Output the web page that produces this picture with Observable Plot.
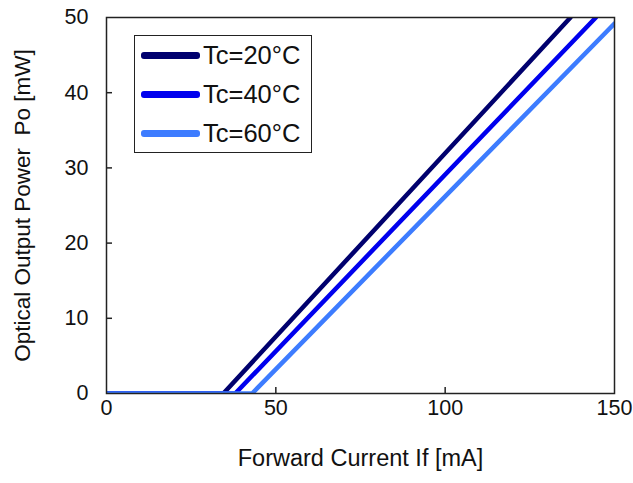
<!DOCTYPE html>
<html><head><meta charset="utf-8">
<script src="https://cdn.jsdelivr.net/npm/d3@7"></script>
<script src="https://cdn.jsdelivr.net/npm/@observablehq/plot@0.6"></script>
<style>
body{margin:0;background:#fff;}
#wrap{position:relative;width:633px;height:483px;font-family:"Liberation Sans",Arial,sans-serif;}
#legend{position:absolute;left:134px;top:35px;width:178px;height:118px;border:1.5px solid #222;box-sizing:border-box;background:#fff;}
.item{position:absolute;left:0;height:30px;width:176px;}
.sw{position:absolute;left:6px;top:12px;width:59px;height:7px;border-radius:3px;}
.lab{position:absolute;left:68px;top:0;font-size:25.5px;line-height:30px;color:#111;}
</style></head>
<body><div id="wrap"></div>
<script>
const seriesNames = ["Tc=20°C", "Tc=40°C", "Tc=60°C"];
const seriesColors = ["#00006e", "#0000ee", "#3d7cff"];
const current20 = [0, 34.5, 137];
const power20   = [0, 0, 50];
const current40 = [0, 38, 144.5];
const power40   = [0, 0, 50];
const current60 = [0, 43, 150];
const power60   = [0, 0, 49.2];
const xTicks = [0, 50, 100, 150];
const yTicks = [0, 10, 20, 30, 40, 50];
const xLabel = "Forward Current If [mA]";
const yLabel = "Optical Output Power  Po [mW]";

const seriesData = [[current20, power20], [current40, power40], [current60, power60]];
const rows = [];
seriesData.forEach(([cx, py], i) => cx.forEach((c, j) => rows.push({series: seriesNames[i], current: c, power: py[j]})));

const chart = Plot.plot({
  width: 633, height: 483,
  marginLeft: 106, marginRight: 19, marginTop: 17, marginBottom: 90,
  style: {fontFamily: '"Liberation Sans", Arial, sans-serif', color: "#111", background: "#fff"},
  x: {domain: [0, 150]},
  y: {domain: [0, 50]},
  color: {domain: seriesNames, range: seriesColors},
  marks: [
    Plot.axisX({ticks: [50, 100], tickSize: -6, text: null, label: null, stroke: "#222", strokeWidth: 1.5}),
    Plot.axisY({ticks: [10, 20, 30, 40], tickSize: -6, text: null, label: null, stroke: "#222", strokeWidth: 1.5}),
    Plot.axisX({ticks: xTicks, tickSize: 0, tickPadding: 6, fontSize: 21.5, label: null}),
    Plot.axisY({ticks: yTicks, tickSize: 0, tickPadding: 18, fontSize: 21.5, label: null}),
    Plot.line(rows, {x: "current", y: "power", z: "series", stroke: "series", strokeWidth: 4.5, clip: true, strokeLinecap: "round"}),
    Plot.frame({stroke: "#222", strokeWidth: 1.5}),
    Plot.text([xLabel], {frameAnchor: "bottom", dy: 72, fontSize: 23.5, fill: "#111"}),
    Plot.text([yLabel], {frameAnchor: "left", textAnchor: "middle", dx: -84, rotate: -90, fontSize: 22.5, fill: "#111"})
  ]
});
const wrap = document.getElementById("wrap");
wrap.appendChild(chart);
const leg = document.createElement("div");
leg.id = "legend";
seriesNames.forEach((name, i) => {
  const it = document.createElement("div");
  it.className = "item";
  it.style.top = (4 + i * 39) + "px";
  it.innerHTML = `<div class="sw" style="background:${seriesColors[i]}"></div><div class="lab">${name}</div>`;
  leg.appendChild(it);
});
wrap.appendChild(leg);
</script></body></html>
